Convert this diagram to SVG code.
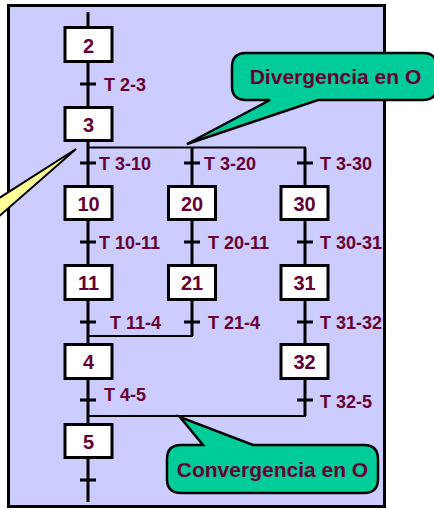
<svg xmlns="http://www.w3.org/2000/svg" width="434" height="509" viewBox="0 0 434 509">
<style>
.bg{fill:#ccccff;stroke:#000;stroke-width:3}
.ln{stroke:#000;stroke-width:3;fill:none}
.hl{stroke:#000;stroke-width:2;fill:none}
.tk{stroke:#000;stroke-width:3}
.box{fill:#fff;stroke:#000;stroke-width:3}
.num{font-family:"Liberation Sans",Arial,sans-serif;font-weight:bold;font-size:20px;fill:#660033;text-anchor:middle}
.lbl{font-family:"Liberation Sans",Arial,sans-serif;font-weight:bold;font-size:18px;fill:#660033}
.call{fill:#00cc99;stroke:#000;stroke-width:2.5;stroke-linejoin:miter}
.ctxt{font-family:"Liberation Sans",Arial,sans-serif;font-weight:bold;font-size:21px;fill:#660033;text-anchor:middle}
</style>
<rect class="bg" x="8.5" y="5.5" width="376" height="501"/>
<g id="connectors">
<line class="ln" x1="88" y1="12" x2="88" y2="502"/>
<line class="ln" x1="192" y1="147.5" x2="192" y2="336"/>
<line class="ln" x1="305" y1="147.5" x2="305" y2="416"/>
<line class="hl" x1="88" y1="147.5" x2="306" y2="147.5"/>
<line class="hl" x1="88" y1="336" x2="193" y2="336"/>
<line class="hl" x1="88" y1="416" x2="306" y2="416"/>
<g class="tk">
<line x1="80" y1="84" x2="96" y2="84"/>
<line x1="80" y1="163" x2="96" y2="163"/>
<line x1="80" y1="242" x2="96" y2="242"/>
<line x1="80" y1="322" x2="96" y2="322"/>
<line x1="80" y1="400" x2="96" y2="400"/>
<line x1="80" y1="480" x2="96" y2="480"/>
<line x1="184" y1="163" x2="200" y2="163"/>
<line x1="184" y1="242" x2="200" y2="242"/>
<line x1="184" y1="322" x2="200" y2="322"/>
<line x1="297" y1="163" x2="313" y2="163"/>
<line x1="297" y1="242" x2="313" y2="242"/>
<line x1="297" y1="322" x2="313" y2="322"/>
<line x1="297" y1="400" x2="313" y2="400"/>
</g>
<g class="lbl">
<text x="104" y="91">T 2-3</text>
<text x="99" y="170">T 3-10</text>
<text x="204" y="170">T 3-20</text>
<text x="320" y="170">T 3-30</text>
<text x="99" y="249">T 10-11</text>
<text x="208" y="249">T 20-11</text>
<text x="320" y="249">T 30-31</text>
<text x="110" y="329">T 11-4</text>
<text x="208" y="329">T 21-4</text>
<text x="320" y="329">T 31-32</text>
<text x="104" y="401">T 4-5</text>
<text x="320" y="408">T 32-5</text>
</g>
</g>
<g id="step2"><rect class="box" x="65" y="27.5" width="47" height="34"/><text class="num" x="88.5" y="52.5">2</text></g>
<g id="step3"><rect class="box" x="65" y="107.5" width="47" height="33"/><text class="num" x="88.5" y="131.5">3</text></g>
<g id="step10"><rect class="box" x="65" y="186.5" width="47" height="33"/><text class="num" x="88.5" y="210.5">10</text></g>
<g id="step20"><rect class="box" x="168.5" y="186.5" width="47" height="33"/><text class="num" x="192" y="210.5">20</text></g>
<g id="step30"><rect class="box" x="281" y="186.5" width="47" height="33"/><text class="num" x="304.5" y="210.5">30</text></g>
<g id="step11"><rect class="box" x="65" y="265.5" width="47" height="34"/><text class="num" x="88.5" y="290">11</text></g>
<g id="step21"><rect class="box" x="168.5" y="265.5" width="47" height="34"/><text class="num" x="192" y="290">21</text></g>
<g id="step31"><rect class="box" x="281" y="265.5" width="47" height="34"/><text class="num" x="304.5" y="290">31</text></g>
<g id="step4"><rect class="box" x="65" y="344.5" width="47" height="34"/><text class="num" x="88.5" y="369">4</text></g>
<g id="step32"><rect class="box" x="281" y="344.5" width="47" height="34"/><text class="num" x="304.5" y="369">32</text></g>
<g id="step5"><rect class="box" x="65" y="424.5" width="47" height="33"/><text class="num" x="88.5" y="448.5">5</text></g>
<g id="callout-yellow"><polygon points="76,149 -4,219 -4,200" fill="#ffff99" stroke="#000" stroke-width="2"/></g>
<g id="callout-divergencia">
<path class="call" d="M246,53 H423 Q437,53 437,67 V86 Q437,100 423,100 H318 L187,144 L270,100 H246 Q232,100 232,86 V67 Q232,53 246,53 Z"/>
<text class="ctxt" x="335.5" y="84">Divergencia en O</text>
</g>
<g id="callout-convergencia">
<path class="call" d="M181,445 H203 L180,417 L253,445 H364 Q378,445 378,459 V479 Q378,493 364,493 H181 Q167,493 167,479 V459 Q167,445 181,445 Z"/>
<text class="ctxt" x="272.5" y="477">Convergencia en O</text>
</g>
</svg>
